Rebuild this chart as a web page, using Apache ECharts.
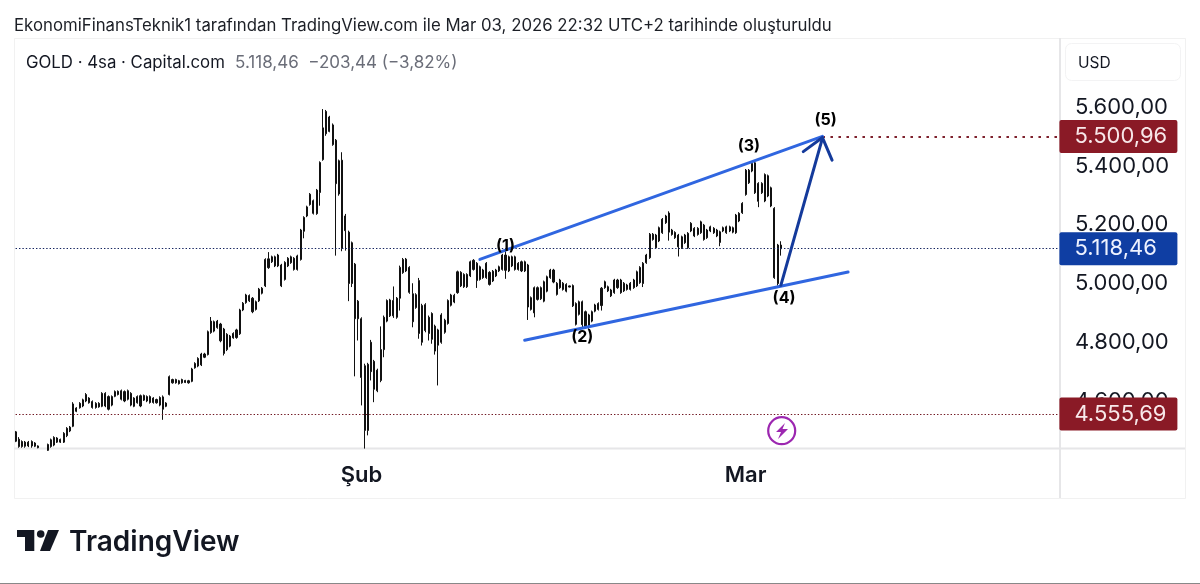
<!DOCTYPE html>
<html><head><meta charset="utf-8">
<style>html,body{margin:0;padding:0;background:#fff}#c{width:1200px;height:584px}</style>
<script src="https://cdn.jsdelivr.net/npm/echarts@6/dist/echarts.min.js"></script>
</head><body><div id="c"></div>
<script>
const opens=[4495,4470,4462,4446,4460,4447,4457,4447,4428,4405,
4432,4445,4450,4474,4460,4460,4482,4498,4514,4576,
4577,4583,4600,4610,4598,4578,4592,4582,4626,4615,
4586,4616,4622,4635,4600,4635,4626,4582,4594,4618,
4603,4615,4595,4610,4594,4612,4614,4582,4622,4673,
4662,4669,4662,4670,4662,4667,4713,4719,4723,4760,
4758,4833,4870,4850,4862,4845,4775,4821,4815,4816,
4829,4910,4935,4959,4950,4912,4941,4967,4992,5084,
5074,5091,5060,5063,5014,5060,5071,5086,5048,5082,
5178,5230,5269,5282,5238,5310,5422,5586,5518,5540,
5488,5305,5420,5230,5175,5139,5066,4940,4880,4720,
4500,4800,4735,4635,4670,4775,4872,4890,4942,4885,
4950,5037,5083,5055,4965,4918,5010,4925,4840,4885,
4810,4855,4790,4800,4875,4864,4926,4937,4969,5038,
4989,5031,5026,5048,5069,5014,5046,5020,5038,5009,
5026,5043,5048,5097,5043,5091,5048,5069,5043,5074,
5063,4912,4986,4946,4986,4940,4974,5020,5046,5001,
4986,5001,4974,4992,4993,4932,4895,4938,4850,4893,
4872,4906,4912,4925,4986,4989,4978,4969,5012,4969,
5001,4980,4980,4986,4992,5003,5000,5071,5088,5168,
5122,5145,5173,5207,5240,5182,5174,5165,5122,5139,
5171,5179,5188,5167,5173,5199,5156,5193,5173,5182,
5176,5179,5173,5193,5175,5173,5213,5241,5303,5386,
5383,5411,5341,5309,5281,5367,5326,5256,5000,5131];
const highs=[4498,4477,4466,4464,4464,4466,4460,4449,4430,4428,
4455,4472,4480,4477,4472,4494,4511,4515,4596,4579,
4596,4608,4627,4613,4602,4596,4596,4630,4630,4619,
4619,4636,4636,4639,4636,4639,4630,4613,4619,4622,
4622,4619,4619,4613,4608,4616,4619,4596,4687,4676,
4676,4672,4676,4672,4672,4713,4732,4749,4764,4764,
4840,4886,4874,4876,4866,4849,4831,4825,4834,4846,
4914,4937,4965,4963,4954,4942,4985,4988,5086,5107,
5095,5095,5101,5067,5076,5090,5095,5090,5098,5186,
5229,5265,5308,5286,5322,5416,5594,5591,5571,5545,
5492,5422,5447,5237,5180,5143,5070,4944,4885,4727,
4730,4808,4740,4710,4854,4891,4946,4948,4990,4954,
5061,5087,5087,5059,5001,4967,5019,4931,4933,4891,
4902,4860,4846,4899,4880,4946,4965,4965,5044,5042,
5035,5035,5078,5083,5073,5061,5050,5073,5042,5046,
5050,5061,5101,5118,5095,5095,5095,5073,5078,5078,
5067,4956,4990,4990,4990,5010,5027,5050,5050,5005,
5016,5005,5001,4993,4997,4936,4942,4942,4908,4897,
4908,4931,4936,4988,5010,4993,4982,5016,5016,5016,
5005,4999,5005,5016,5044,5059,5073,5101,5172,5172,
5169,5194,5223,5234,5246,5186,5178,5169,5163,5169,
5175,5209,5192,5192,5214,5203,5186,5197,5192,5186,
5180,5194,5197,5197,5194,5237,5243,5277,5390,5390,
5413,5415,5345,5345,5375,5371,5330,5260,5135,5144];
const lows=[4460,4441,4441,4441,4443,4441,4443,4439,4405,4400,
4430,4441,4446,4457,4457,4457,4477,4494,4511,4562,
4574,4579,4596,4591,4574,4574,4577,4579,4579,4568,
4582,4613,4619,4602,4596,4602,4582,4579,4591,4579,
4600,4596,4591,4591,4591,4582,4536,4579,4619,4659,
4659,4656,4659,4661,4659,4664,4710,4715,4719,4746,
4755,4829,4834,4846,4800,4755,4770,4783,4812,4812,
4825,4906,4931,4937,4899,4908,4937,4963,4988,5050,
5070,5056,5056,4988,5010,5056,5067,5044,5044,5078,
5154,5226,5265,5235,5234,5265,5418,5503,5515,5469,
5095,5299,5110,5112,4940,4988,4684,4806,4585,4438,
4483,4670,4596,4630,4664,4749,4868,4886,4883,4880,
4908,5033,5039,4965,4851,4914,4812,4789,4834,4806,
4795,4758,4653,4795,4829,4860,4922,4933,4965,4988,
4985,4985,5022,5044,4985,5010,5016,5016,4993,5005,
5022,5039,5044,5016,5039,5056,5044,5044,5039,5039,
4876,4908,4885,4942,4944,4936,4970,5016,5001,4959,
4982,4976,4970,4987,4920,4857,4891,4846,4846,4846,
4868,4902,4908,4908,4982,4971,4954,4965,4982,4965,
4971,4976,4976,4982,4988,4999,4988,5067,5084,5146,
5118,5141,5169,5203,5146,5163,5152,5092,5118,5135,
5118,5175,5158,5163,5169,5146,5152,5175,5169,5158,
5127,5175,5169,5175,5171,5169,5209,5237,5299,5339,
5379,5305,5260,5305,5277,5294,5260,5016,4993,5095];
const closes=[4463,4445,4445,4460,4447,4462,4446,4441,4408,4425,
4452,4468,4476,4460,4469,4490,4507,4511,4590,4565,
4592,4604,4622,4594,4578,4592,4580,4626,4583,4572,
4615,4632,4633,4606,4632,4606,4586,4610,4615,4583,
4619,4600,4615,4595,4605,4586,4572,4593,4683,4662,
4673,4659,4673,4663,4669,4709,4728,4745,4760,4749,
4836,4872,4838,4872,4805,4762,4827,4787,4830,4842,
4910,4933,4961,4941,4904,4938,4981,4984,5082,5054,
5091,5060,5097,4992,5072,5086,5091,5048,5094,5182,
5225,5261,5304,5239,5318,5412,5530,5510,5567,5473,
5340,5418,5120,5180,5000,5000,4880,4880,4680,4500,
4725,4700,4640,4705,4775,4885,4942,4944,4890,4950,
5055,5082,5043,4970,4870,4962,4830,4800,4928,4830,
4898,4770,4842,4893,4834,4942,4961,4960,5040,4992,
5031,4989,5074,5079,5010,5057,5020,5069,4997,5042,
5046,5057,5097,5045,5091,5060,5091,5048,5074,5043,
4920,4952,4900,4986,4948,5006,5023,5046,5005,4963,
5012,4980,4997,4988,4924,4861,4938,4860,4904,4850,
4904,4927,4932,4984,5006,4975,4958,5012,4986,5012,
4975,4995,5001,5012,5040,5055,5069,5097,5168,5150,
5165,5190,5219,5230,5175,5167,5156,5125,5159,5165,
5122,5205,5162,5188,5210,5150,5182,5179,5188,5162,
5140,5190,5193,5179,5190,5233,5239,5273,5386,5343,
5409,5309,5280,5341,5371,5298,5264,5020,5131,5118.46];

const slotCount=327;
const monthLabels={108:'Şub',228:'Mar'};
const priceTicks=[4600,4800,5000,5200,5400,5600];
const lastPrice=5118.46, targetPrice=5500.96, supportPrice=4555.69;
const upperChannel=[[145,5082],[252,5501]];
const lowerChannel=[[159,4807],[260,5039]];
const arrowShaft=[[239,4994],[252,5495]];
const arrowHead=[[246,5449],[252,5497],[255,5420]];
const waveLabels=[[153,5128,'(1)'],[177,4818,'(2)'],[229,5467,'(3)'],[240,4950,'(4)'],[253,5556,'(5)']];

const slots=Array.from({length:slotCount},(_,i)=>String(i));
const candles=opens.map((o,i)=>[o,closes[i],lows[i],highs[i]]);
const fmt=v=>v.toFixed(2).replace('.',',').replace(/\B(?=(\d{3})(?!\d))/g,'.');
const FONT='Inter, "Noto Sans", sans-serif';

function priceLine(fromIdx,value,color,bg,width,dash,textColor){
  return {type:'line',data:[],silent:true,z:5,
    markLine:{silent:true,symbol:'none',animation:false,
      lineStyle:{color:color,width:width,type:dash},
      label:{show:true,position:'end',distance:0,formatter:fmt(value),color:textColor,
        backgroundColor:bg,borderRadius:2,fontFamily:FONT,fontSize:22,
        width:103,height:33,lineHeight:33,padding:[0,0,0,15],align:'left'},
      data:[[{xAxis:fromIdx,yAxis:value},{xAxis:slotCount-1,yAxis:value}]]}};
}
function stroke(data,color,width){
  return {type:'line',data:data,showSymbol:false,symbol:'none',silent:true,z:6,clip:false,
    lineStyle:{color:color,width:width,cap:'round',join:'round'},itemStyle:{color:color}};
}

const chart=echarts.init(document.getElementById('c'),null,{renderer:'canvas'});
chart.setOption({
  animation:false,backgroundColor:'#ffffff',
  grid:{left:14,right:139,top:38,bottom:136},
  xAxis:{type:'category',data:slots,boundaryGap:true,axisLine:{show:false},axisTick:{show:false},splitLine:{show:false},
    axisLabel:{interval:i=>monthLabels[i]!==undefined,formatter:(v,i)=>monthLabels[i]||'',margin:16,
      fontFamily:FONT,fontSize:22,fontWeight:600,color:'#131722',hideOverlap:false}},
  yAxis:{type:'value',position:'right',min:4440,max:5836,scale:true,axisLine:{show:false},axisTick:{show:false},splitLine:{show:false},
    axisLabel:{customValues:priceTicks,formatter:v=>fmt(v),margin:14,align:'left',fontFamily:FONT,fontSize:22,color:'#131722',
      padding:[0,0,3,0]}},
  series:[
    {type:'candlestick',data:candles,barWidth:1.6,silent:true,z:3,clip:true,
      itemStyle:{color:'#111',color0:'#111',borderColor:'#111',borderColor0:'#111',borderWidth:1}},
    priceLine(0,lastPrice,'#14245f','#0f3ea3',1.2,[1.4,2],'#eef2ff'),
    priceLine(0,supportPrice,'#701722','#8a1a26',1.2,[1.4,2],'#f8e8ea'),
    priceLine(252,targetPrice,'#7d1f2b','#8a1a26',2,[2.5,5.5],'#f8e8ea'),
    stroke(upperChannel,'#3066e0',3),
    stroke(lowerChannel,'#3066e0',3),
    stroke(arrowShaft,'#143a9b',3),
    stroke(arrowHead,'#143a9b',3),
    {type:'scatter',data:waveLabels.map(d=>({value:[d[0],d[1]],name:d[2]})),symbolSize:1,silent:true,z:7,clip:false,
      itemStyle:{color:'#000',opacity:0},
      label:{show:true,position:'inside',formatter:p=>p.name,color:'#000',opacity:1,textBorderWidth:0,fontFamily:FONT,fontSize:16,fontWeight:700}}
  ],
  graphic:[
    {type:'rect',z:-1,shape:{x:14.5,y:38.5,width:1171,height:460},style:{fill:'none',stroke:'#f1f1f1',lineWidth:1}},
    {type:'rect',z:1,shape:{x:1059,y:38,width:2,height:460},style:{fill:'#e6e6e8'}},
    {type:'rect',z:1,shape:{x:14,y:447.5,width:1171,height:2},style:{fill:'#e6e6e8'}},
    {type:'rect',z:1,shape:{x:1065.5,y:43.5,width:115,height:37,r:6},style:{fill:'#fff',stroke:'#f3f3f4',lineWidth:1}},
    {type:'text',z:10,x:1078,y:63,style:{text:'USD',font:'15.5px '+FONT,fill:'#131722',textVerticalAlign:'middle'}},
    {type:'text',z:10,x:14,y:26,style:{text:'EkonomiFinansTeknik1 tarafından TradingView.com ile Mar 03, 2026 22:32 UTC+2 tarihinde oluşturuldu',font:'16.8px '+FONT,fill:'#1c1f26',textVerticalAlign:'middle'}},
    {type:'text',z:10,x:26,y:63,style:{text:'GOLD · 4sa · Capital.com',font:'16.8px '+FONT,fill:'#131722',textVerticalAlign:'middle'}},
    {type:'text',z:10,x:235,y:63,style:{text:'5.118,46  −203,44 (−3,82%)',font:'17px '+FONT,fill:'#6a6d78',textVerticalAlign:'middle'}},
    {type:'circle',z:10,shape:{cx:781.7,cy:430.7,r:13.5},style:{fill:'#fff',stroke:'#9c27b0',lineWidth:2.2}},
    {type:'polygon',z:10,shape:{points:[[785,423],[776,432],[781,432],[778,439],[788,429],[782.5,429]]},style:{fill:'#9c27b0'}},
    {type:'polygon',z:10,shape:{points:[[17,530],[34.3,530],[34.3,551],[25,551],[25,537],[17,537]]},style:{fill:'#131722'}},
    {type:'circle',z:10,shape:{cx:40.7,cy:534,r:3.8},style:{fill:'#131722'}},
    {type:'polygon',z:10,shape:{points:[[48,530],[59,530],[50,551],[40,551]]},style:{fill:'#131722'}},
    {type:'text',z:10,x:69,y:542.5,style:{text:'TradingView',font:'600 28px '+FONT,fill:'#131722',textVerticalAlign:'middle'}},
    {type:'rect',z:10,shape:{x:0,y:583,width:1200,height:1},style:{fill:'#888'}}
  ]
});
</script></body></html>
